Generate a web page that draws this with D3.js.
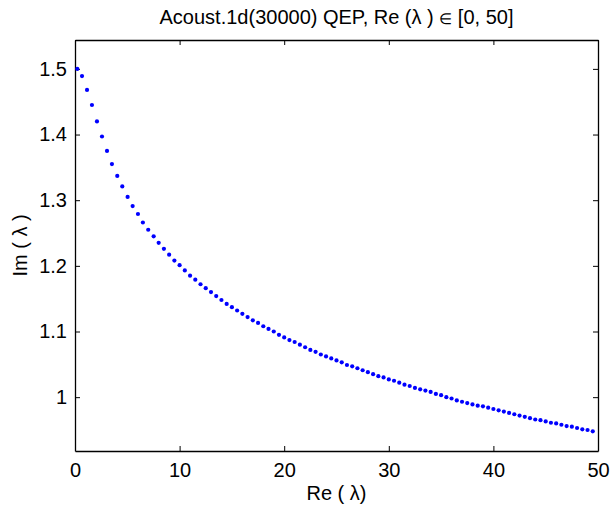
<!DOCTYPE html>
<html>
<head>
<meta charset="utf-8">
<script src="https://cdn.jsdelivr.net/npm/d3@7/dist/d3.min.js"></script>
<style>
  body { margin: 0; background: #fff; }
  svg { font-family: "Liberation Sans", Arial, Helvetica, sans-serif; }
</style>
</head>
<body>
<div id="chart"></div>
<script>
'use strict';

// eigenvalues: Re(lambda) and Im(lambda)
const reValues = [
  0.22, 0.67, 1.15, 1.62, 2.10, 2.58, 3.06, 3.53, 4.04, 4.52,
  5.03, 5.51, 6.02, 6.49, 7.00, 7.52, 8.0, 8.5, 9.0, 9.5,
  10.0, 10.5, 11.0, 11.5, 12.0, 12.5, 13.0, 13.5, 14.0, 14.5,
  15.0, 15.5, 16.0, 16.5, 17.0, 17.5, 18.0, 18.5, 19.0, 19.5,
  20.0, 20.5, 21.0, 21.5, 22.0, 22.5, 23.0, 23.5, 24.0, 24.5,
  25.0, 25.5, 26.0, 26.5, 27.0, 27.5, 28.0, 28.5, 29.0, 29.5,
  30.0, 30.5, 31.0, 31.5, 32.0, 32.5, 33.0, 33.5, 34.0, 34.5,
  35.0, 35.5, 36.0, 36.5, 37.0, 37.5, 38.0, 38.5, 39.0, 39.5,
  40.0, 40.5, 41.0, 41.5, 42.0, 42.5, 43.0, 43.5, 44.0, 44.5,
  45.0, 45.5, 46.0, 46.5, 47.0, 47.5, 48.0, 48.5, 49.0, 49.5
];
const imValues = [
  1.500, 1.489, 1.468, 1.445, 1.420, 1.397, 1.375, 1.355, 1.337, 1.321,
  1.305, 1.291, 1.279, 1.266, 1.255, 1.245, 1.235, 1.226, 1.217, 1.208,
  1.201, 1.193, 1.185, 1.179, 1.172, 1.166, 1.160, 1.154, 1.148, 1.142,
  1.137, 1.132, 1.127, 1.122, 1.117, 1.113, 1.108, 1.104, 1.100, 1.095,
  1.091, 1.087, 1.084, 1.080, 1.076, 1.072, 1.069, 1.065, 1.062, 1.059,
  1.056, 1.053, 1.049, 1.047, 1.044, 1.041, 1.038, 1.035, 1.032, 1.030,
  1.027, 1.025, 1.022, 1.019, 1.017, 1.014, 1.012, 1.010, 1.008, 1.005,
  1.003, 1.000, 0.998, 0.995, 0.993, 0.991, 0.989, 0.987, 0.986, 0.984,
  0.982, 0.980, 0.978, 0.976, 0.974, 0.972, 0.970, 0.968, 0.966, 0.965,
  0.963, 0.961, 0.960, 0.958, 0.956, 0.955, 0.953, 0.951, 0.950, 0.948
];

const xTicks = [0, 10, 20, 30, 40, 50];
const yTicks = [1, 1.1, 1.2, 1.3, 1.4, 1.5];
const xDomain = [0, 50];
const yDomain = [0.918, 1.544];

const titleParts = ['Acoust.1d(30000) QEP, Re (\u03bb ) ', '\u2208', ' [0, 50]'];
const xLabelText = 'Re ( \u03bb)';
const yLabelText = 'Im ( \u03bb )';

drawChart('#chart');

function drawChart(el) {
  const width = 610;
  const height = 508;
  const margin = { top: 40, right: 12, bottom: 57, left: 75 };
  const tickLen = 5;
  const fontSize = '20px';

  const svg = d3.select(el)
    .append('svg')
    .attr('width', width)
    .attr('height', height);

  const scaleX = d3.scaleLinear()
    .domain(xDomain)
    .range([margin.left, width - margin.right]);

  const scaleY = d3.scaleLinear()
    .domain(yDomain)
    .range([height - margin.bottom, margin.top]);

  const fmtY = d => d === 1 ? '1' : d3.format('.1f')(d);

  // axes: matlab style, ticks inward on all four sides
  const axisBottom = svg.append('g')
    .attr('transform', `translate(0, ${height - margin.bottom})`)
    .call(d3.axisBottom(scaleX).tickValues(xTicks).tickSizeInner(-tickLen).tickSizeOuter(0).tickPadding(12));

  const axisTop = svg.append('g')
    .attr('transform', `translate(0, ${margin.top})`)
    .call(d3.axisTop(scaleX).tickValues(xTicks).tickSizeInner(-tickLen).tickSizeOuter(0).tickFormat(''));

  const axisLeft = svg.append('g')
    .attr('transform', `translate(${margin.left}, 0)`)
    .call(d3.axisLeft(scaleY).tickValues(yTicks).tickSizeInner(-tickLen).tickSizeOuter(0).tickPadding(8).tickFormat(fmtY));

  const axisRight = svg.append('g')
    .attr('transform', `translate(${width - margin.right}, 0)`)
    .call(d3.axisRight(scaleY).tickValues(yTicks).tickSizeInner(-tickLen).tickSizeOuter(0).tickFormat(''));

  [axisBottom, axisTop, axisLeft, axisRight].forEach(g => {
    g.select('.domain').attr('stroke', '#000').attr('stroke-width', 1.3);
    g.selectAll('.tick line').attr('stroke', '#000').attr('stroke-width', 1);
    g.selectAll('.tick text')
      .attr('fill', '#000')
      .style('font-size', fontSize)
      .style('font-family', '"Liberation Sans", Arial, sans-serif');
  });

  // points
  svg.append('g')
    .selectAll('circle')
    .data(reValues.map((re, i) => [re, imValues[i]]))
    .enter()
    .append('circle')
    .attr('cx', d => scaleX(d[0]))
    .attr('cy', d => scaleY(d[1]))
    .attr('r', 2.1)
    .attr('fill', '#0000ff');

  const midX = (margin.left + width - margin.right) / 2;

  const title = svg.append('text')
    .attr('x', midX)
    .attr('y', 24)
    .attr('text-anchor', 'middle')
    .style('font-size', fontSize);
  title.append('tspan').text(titleParts[0]);
  title.append('tspan').style('font-size', '15px').text(titleParts[1]);
  title.append('tspan').text(titleParts[2]);

  svg.append('text')
    .attr('x', midX)
    .attr('y', 500)
    .attr('text-anchor', 'middle')
    .style('font-size', fontSize)
    .text(xLabelText);

  svg.append('text')
    .attr('transform', `translate(27, ${(margin.top + height - margin.bottom) / 2}) rotate(-90)`)
    .attr('text-anchor', 'middle')
    .style('font-size', fontSize)
    .text(yLabelText);
}
</script>
</body>
</html>
